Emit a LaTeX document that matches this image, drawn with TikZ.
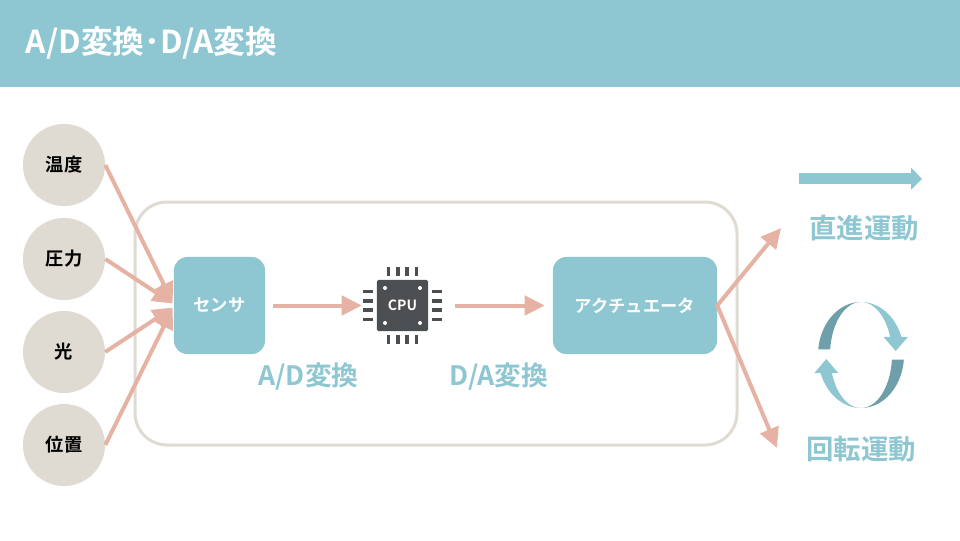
\documentclass[tikz,border=0pt]{standalone}
\usepackage{fontspec}
\setmainfont{Noto Sans CJK JP}[BoldFont={* Bold}]
\usetikzlibrary{arrows.meta, calc}
\definecolor{teal1}{HTML}{8EC7D2}
\definecolor{teal2}{HTML}{6E9FAA}
\definecolor{beige}{HTML}{DFDBD2}
\definecolor{salmon}{HTML}{E5B2A4}
\definecolor{chip}{HTML}{4B4F51}

\begin{document}
\begin{tikzpicture}[x=0.025cm, y=-0.025cm,
  >={Triangle[length=0.5cm, width=0.48cm]},
  sense/.style={shape=circle, fill=beige, minimum size=2.05cm, inner sep=0pt, font=\fontsize{13}{15}\selectfont\bfseries},
  box/.style={fill=teal1, rounded corners=0.33cm, text=white, font=\fontsize{12.3}{14}\selectfont\bfseries},
  arr/.style={draw=salmon, line width=0.1cm, ->},
  lbl/.style={text=teal1, font=\fontsize{19}{21}\selectfont\bfseries}]
\useasboundingbox (0,0) rectangle (960,540);

% header
\fill[teal1] (0,0) rectangle (960,87);
\node[anchor=west, text=white, font=\fontsize{22.5}{25}\selectfont\bfseries] (title) at (21,43) {A/D変換･D/A変換};

\draw[beige, line width=0.075cm, rounded corners=0.8cm] (135,202) rectangle (737,445);

\node[sense] (Q1) at (64,165) {温度};
\node[sense] (Q2) at (64,259) {圧力};
\node[sense] (Q3) at (64,352) {光};
\node[sense] (Q4) at (64,445) {位置};

\node[box, minimum width=2.275cm, minimum height=2.425cm] (S) at (219.5,305.5) {センサ};
\node[box, minimum width=4.1cm, minimum height=2.425cm] (A) at (635,305.5) {アクチュエータ};

% chip
\node[fill=chip, minimum size=1.275cm, inner sep=0pt, rounded corners=1pt, text=white, font=\fontsize{10}{12}\selectfont\bfseries] (C) at (402.5,305.5) {CPU};
\foreach \d in {-14,-4.7,4.7,14} {
  \fill[chip] ($(C.center)+({\d-1.9},-38.5)$) rectangle ($(C.center)+({\d+1.9},-29.5)$);
  \fill[chip] ($(C.center)+({\d-1.9},29.5)$) rectangle ($(C.center)+({\d+1.9},38.5)$);
  \fill[chip] ($(C.center)+(-39.5,{\d-1.9})$) rectangle ($(C.center)+(-29.5,{\d+1.9})$);
  \fill[chip] ($(C.center)+(29.5,{\d-1.9})$) rectangle ($(C.center)+(39.5,{\d+1.9})$);
}
\foreach \u/\v in {-17.5/-17.5,17.5/-17.5,-17.5/17.5,17.5/17.5}
  \fill[white] ($(C.center)+(\u,\v)$) circle (2);

\draw[arr] (Q1.east) -- ($(S.west)+(-1,-3)$);
\draw[arr] (Q2.east) -- ($(S.west)+(-1,-2)$);
\draw[arr] (Q3.east) -- ($(S.west)+(-1,2)$);
\draw[arr] (Q4.east) -- ($(S.west)+(-1,3)$);
\draw[arr] ($(S.east)+(8,0)$) -- ($(C.west)+(-15,0)$);
\draw[arr] ($(C.east)+(27,0)$) -- ($(A.west)+(-8,0)$);

\coordinate (U) at (781,228);
\coordinate (D) at (777,448);
\draw[arr, <->, line join=miter] (U) -- (A.east) -- (D);

\node[lbl] (ad) at (308.5,377) {A/D変換};
\node[lbl] (da) at (499,377) {D/A変換};

% straight motion
\draw[teal1, line width=0.275cm, -{Triangle[length=0.27cm, width=0.53cm]}] (799,178.8) -- (922,178.8);
\node[lbl, font=\fontsize{19.5}{22}\selectfont\bfseries] (lin) at (864,228) {直進運動};

% rotation
\fill[teal2] plot[domain=186:270, samples=30] ({861+43*cos(\x)},{355+53*sin(\x)})
  -- plot[domain=270:186, samples=30] ({861+31*cos(\x)},{355+53*sin(\x)}) -- cycle;
\fill[teal2] plot[domain=5:90, samples=30] ({861+43*cos(\x)},{355+53*sin(\x)})
  -- plot[domain=90:5, samples=30] ({861+31*cos(\x)},{355+53*sin(\x)}) -- cycle;
\fill[teal1] plot[domain=270:340, samples=30] ({861+43*cos(\x)},{355+53*sin(\x)})
  -- (908,336.9) -- (895.7,351) -- (883.5,336.9)
  -- plot[domain=340:270, samples=30] ({861+31*cos(\x)},{355+53*sin(\x)}) -- cycle;
\fill[teal1] plot[domain=90:160, samples=30] ({861+43*cos(\x)},{355+53*sin(\x)})
  -- (814.3,373.1) -- (826.3,359) -- (838.3,373.1)
  -- plot[domain=160:90, samples=30] ({861+31*cos(\x)},{355+53*sin(\x)}) -- cycle;
\node[lbl, font=\fontsize{19.5}{22}\selectfont\bfseries] (rot) at (861,449) {回転運動};

\end{tikzpicture}
\end{document}
